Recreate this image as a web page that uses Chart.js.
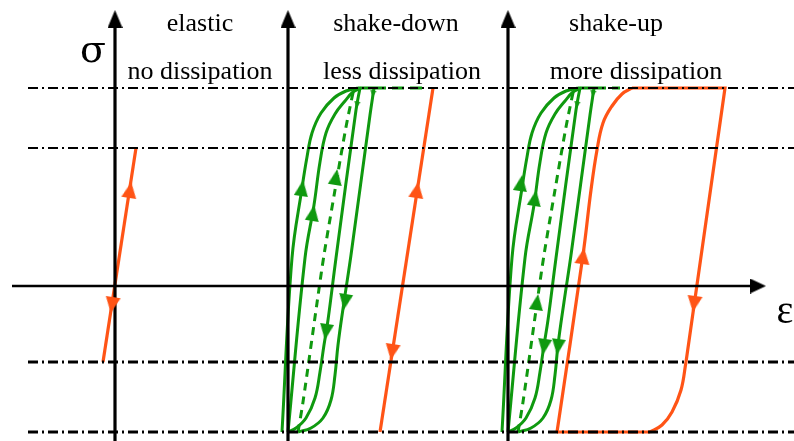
<!DOCTYPE html>
<html><head><meta charset="utf-8">
<style>html,body{margin:0;padding:0;background:#fff;}#wrap{width:794px;height:441px;}</style>
<script src="https://cdn.jsdelivr.net/npm/chart.js@4.4.1/dist/chart.umd.min.js"></script>
</head><body><div id="wrap"><canvas id="c" width="794" height="441"></canvas></div>
<script>
// ---- panel labels ----
const panelNames = ['elastic', 'shake-down', 'shake-up'];
const panelNotes = ['no dissipation', 'less dissipation', 'more dissipation'];
const panelOrigins = [115, 288, 508];          // strain position of each sigma axis
const sigmaLevels = [198, 138, -76, -146];      // dash-dot stress levels
const strainAxisRange = [12, 752];

// ---- green cyclic loops (strain offset from panel axis, stress) ----
const loadA = [[-6,-146],[4,28],[14,98],[19,129],[24,153],[33,173],[46,188],[58,195],[70,198]];
const loadB = [[0,-146],[17,28],[26,81],[32,124],[38,153],[47,172],[57,185],[65,194],[73,198]];
const loadDashed = [[10,-146],[15,-116],[29,-17],[36,31],[47,96],[58,159],[66,198]];
const unloadA = [[72,198],[68,176],[48,28],[40,-34],[36,-59],[32,-86],[27,-112],[18,-132],[8,-142],[0,-146]];
const unloadB = [[86,198],[82,171],[63,31],[56,-16],[50,-59],[47,-89],[43,-114],[35,-132],[23,-142],[10,-146]];
const peakJoin = [[70,198],[86,198]];
const plateauEnd = [null, 140, 112];

// ---- orange stabilised responses ----
const elasticLine = [[-12,-76],[21,138]];
const shakeDownLine = [[92,-146],[145,198]];
const shakeUpLoad = [[49,-146],[75,31],[83,96],[89,136],[95,163],[104,180],[114,192],[124,198]];
const shakeUpTop = [[124,198],[217,198],[178,-76]];
const shakeUpUnload = [[178,-76],[173,-104],[164,-126],[154,-139],[142,-146]];
const shakeUpBottom = [[142,-146],[49,-146]];

// ---- arrowheads: [panel, strain offset, stress, direction deg] ----
const greenArrows = [[1,14,98,8],[1,25,73,9],[1,48,109,9],[1,38,-46,188],[1,57,-16,189],
                     [2,13,103,8],[2,27,88,9],[2,29,-16,8],[2,36,-61,188],[2,50,-61,187]];
const greenSmallArrows = [[1,69,181,188],[1,85,192,188],[2,69,181,188],[2,85,192,188]];
const orangeArrows = [[0,15,96,9],[0,-3,-19,189],[1,129,96,9],[1,104,-66,189],[2,75,30,8],[2,186,-18,188]];

const GREEN = '#0f990f', ORANGE = '#ff5416', BLACK = '#000';

function arrowImg(w, h, color) {
  const c = document.createElement('canvas'); c.width = w; c.height = h;
  const g = c.getContext('2d'); g.fillStyle = color;
  g.beginPath(); g.moveTo(w/2, 0); g.lineTo(w, h); g.lineTo(0, h); g.closePath(); g.fill();
  return c;
}
const pts = (arr, o) => arr.map(([e, s]) => ({x: o + e, y: s}));
const line = (data, color, width, extra) => Object.assign({data, borderColor: color, borderWidth: width,
  showLine: true, pointRadius: 0, fill: false, tension: 0}, extra || {});

const datasets = [];
// green loops in shake-down and shake-up panels
[1, 2].forEach(p => {
  const o = panelOrigins[p];
  [loadA, loadB, unloadA, unloadB].forEach(c => datasets.push(line(pts(c, o), GREEN, 3, {tension: 0.4, order: 4})));
  datasets.push(line(pts(loadDashed, o), GREEN, 3, {tension: 0.3, borderDash: [8, 6], order: 4}));
  datasets.push(line(pts(peakJoin, o), GREEN, 3, {order: 4}));
  datasets.push(line(pts([[86,198],[plateauEnd[p],198]], o), GREEN, 3, {borderDash: [12, 6], order: 4}));
});
// orange
datasets.push(line(pts(elasticLine, panelOrigins[0]), ORANGE, 3.2, {order: 3}));
datasets.push(line(pts(shakeDownLine, panelOrigins[1]), ORANGE, 3.2, {order: 3}));
datasets.push(line(pts(shakeUpLoad, panelOrigins[2]), ORANGE, 3.2, {tension: 0.4, order: 3}));
datasets.push(line(pts(shakeUpTop, panelOrigins[2]), ORANGE, 3.2, {order: 3}));
datasets.push(line(pts(shakeUpUnload, panelOrigins[2]), ORANGE, 3.2, {tension: 0.4, order: 3}));
datasets.push(line(pts(shakeUpBottom, panelOrigins[2]), ORANGE, 3.2, {order: 3}));
// dash-dot stress levels
sigmaLevels.forEach((s, i) => datasets.push(line([{x: 28, y: s}, {x: 794, y: s}], BLACK, i < 2 ? 2 : 2.8,
  {borderDash: [10, 4, 2, 4], order: 2})));
// axes
panelOrigins.forEach(o => datasets.push(line([{x: o, y: -160}, {x: o, y: 260}], BLACK, 3.2, {order: 1})));
datasets.push(line([{x: strainAxisRange[0], y: 0}, {x: strainAxisRange[1], y: 0}], BLACK, 2.6, {order: 1}));
// arrowheads
function arrowSet(list, img) {
  return {data: list.map(([p, e, s]) => ({x: panelOrigins[p] + e, y: s})), showLine: false,
    pointStyle: img, rotation: list.map(a => a[3]), pointRadius: 6, order: 0};
}
datasets.push(arrowSet(greenArrows, arrowImg(14, 16, GREEN)));
datasets.push(arrowSet(greenSmallArrows, arrowImg(6, 7, GREEN)));
datasets.push(arrowSet(orangeArrows, arrowImg(15, 16, ORANGE)));
const axisTips = panelOrigins.map(o => ({x: o, y: 267}));
datasets.push({data: axisTips, showLine: false, pointStyle: arrowImg(15, 18, BLACK), rotation: 0, pointRadius: 6, order: 0});
datasets.push({data: [{x: 758, y: 0}], showLine: false, pointStyle: arrowImg(15, 16, BLACK), rotation: 90, pointRadius: 6, order: 0});

const textPlugin = {
  id: 'texts',
  afterDatasetsDraw(chart) {
    const {ctx} = chart;
    ctx.save();
    ctx.fillStyle = '#000';
    ctx.textAlign = 'center';
    ctx.textBaseline = 'alphabetic';
    ctx.font = '26px "Liberation Serif", "Times New Roman", serif';
    const nameX = [200, 396, 616], noteX = [200, 402, 636];
    panelNames.forEach((t, i) => ctx.fillText(t, nameX[i], 31));
    panelNotes.forEach((t, i) => ctx.fillText(t, noteX[i], 79));
    ctx.textBaseline = 'middle';
    ctx.font = '38px "DejaVu Serif", serif';
    ctx.fillText('σ', 93, 52);
    ctx.font = '40px "Liberation Serif", serif';
    ctx.fillText('ε', 785, 312);
    ctx.restore();
  }
};

new Chart(document.getElementById('c'), {
  type: 'scatter',
  data: {datasets},
  options: {
    responsive: false, animation: false, devicePixelRatio: 1,
    layout: {padding: 0, autoPadding: false},
    plugins: {legend: {display: false}, tooltip: {enabled: false}},
    scales: {
      x: {type: 'linear', min: 0, max: 794, display: false},
      y: {type: 'linear', min: -155, max: 286, display: false}
    }
  },
  plugins: [textPlugin]
});
</script></body></html>
